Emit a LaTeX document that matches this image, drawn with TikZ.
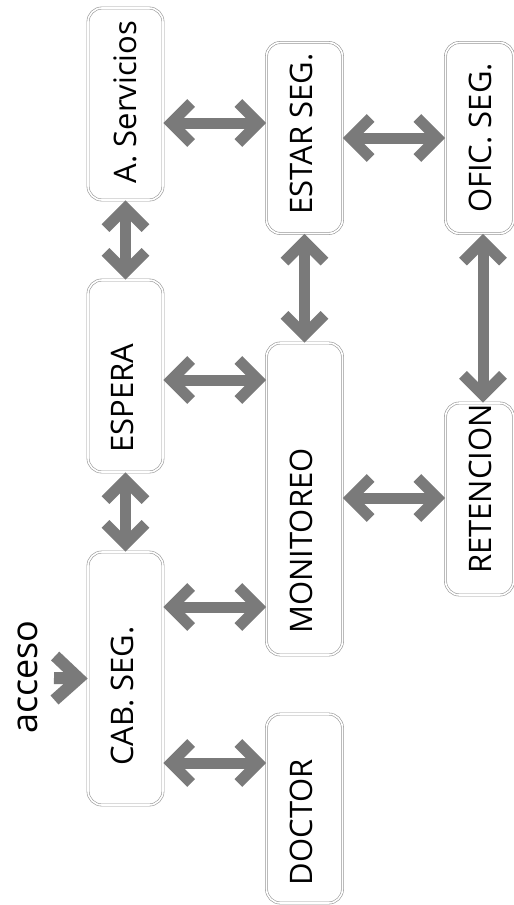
\documentclass[tikz,border=0pt]{standalone}
\usepackage{fontspec}
\setmainfont{Open Sans}
\usetikzlibrary{arrows.meta}
\definecolor{arrgray}{RGB}{122,122,122}
\definecolor{boxgray}{RGB}{150,150,150}
\begin{document}
\begin{tikzpicture}[x=1pt,y=-1pt,
  box/.style={draw=boxgray, double=white, double distance=1.6pt, line width=0.6pt, rounded corners=14pt, inner sep=0pt},
  lbl/.style={rotate=90, font=\fontsize{31}{31}\selectfont, inner sep=0pt},
  link/.style={draw=arrgray, line width=11pt,
    {Straight Barb[length=20pt,width=40pt,line width=11pt]}-{Straight Barb[length=20pt,width=40pt,line width=11pt]}},
  inlink/.style={draw=arrgray, line width=12pt,
    -{Straight Barb[length=24pt,width=44pt,line width=12pt]}}]
\clip (0,0) rectangle (514,905);
% boxes
\node[box, minimum width=75, minimum height=192] (as) at (125.5,104) {};
\node[box, minimum width=76, minimum height=191] (es) at (304.5,138) {};
\node[box, minimum width=68, minimum height=191] (of) at (479.5,138) {};
\node[box, minimum width=75, minimum height=192] (ep) at (125.5,376) {};
\node[box, minimum width=76, minimum height=312] (mo) at (304.5,499) {};
\node[box, minimum width=68, minimum height=192] (re) at (479.5,499) {};
\node[box, minimum width=75, minimum height=253] (cb) at (125.5,678.5) {};
\node[box, minimum width=76, minimum height=189] (dc) at (304.5,808.5) {};
% labels
\node[lbl] (asT) at (125,102) {A. Servicios};
\node[lbl] (esT) at (301.5,134) {ESTAR SEG.};
\node[lbl] (ofT) at (480,138) {OFIC. SEG.};
\node[lbl] (epT) at (122.5,398) {ESPERA};
\node[lbl] (moT) at (301.5,541) {MONITOREO};
\node[lbl] (reT) at (480,489) {RETENCION};
\node[lbl] (cbT) at (122.5,696) {CAB. SEG.};
\node[lbl] (dcT) at (301.5,822) {DOCTOR};
\node[rotate=90, font=\fontsize{36}{36}\selectfont, inner sep=0pt] (acc) at (27.5,677) {acceso};
% connectors
\draw[link] (as.east |- 0,123) -- (es.west |- 0,123);
\draw[link] (es.east |- 0,138) -- (of.west |- 0,138);
\draw[link] (ep.east |- 0,380) -- (mo.west |- 0,380);
\draw[link] (mo.east |- 0,498) -- (re.west |- 0,498);
\draw[link] (cb.east |- 0,607) -- (mo.west |- 0,607);
\draw[link] (cb.east |- 0,763) -- (dc.west |- 0,763);
\draw[link] (as.south) -- (ep.north);
\draw[link] (ep.south) -- (cb.north);
\draw[link] (es.south) -- (mo.north);
\draw[link] (of.south -| 483,0) -- (re.north -| 483,0);
\coordinate (accS) at (54,678);
\draw[inlink] (accS) -- (cb.west);
\end{tikzpicture}
\end{document}
